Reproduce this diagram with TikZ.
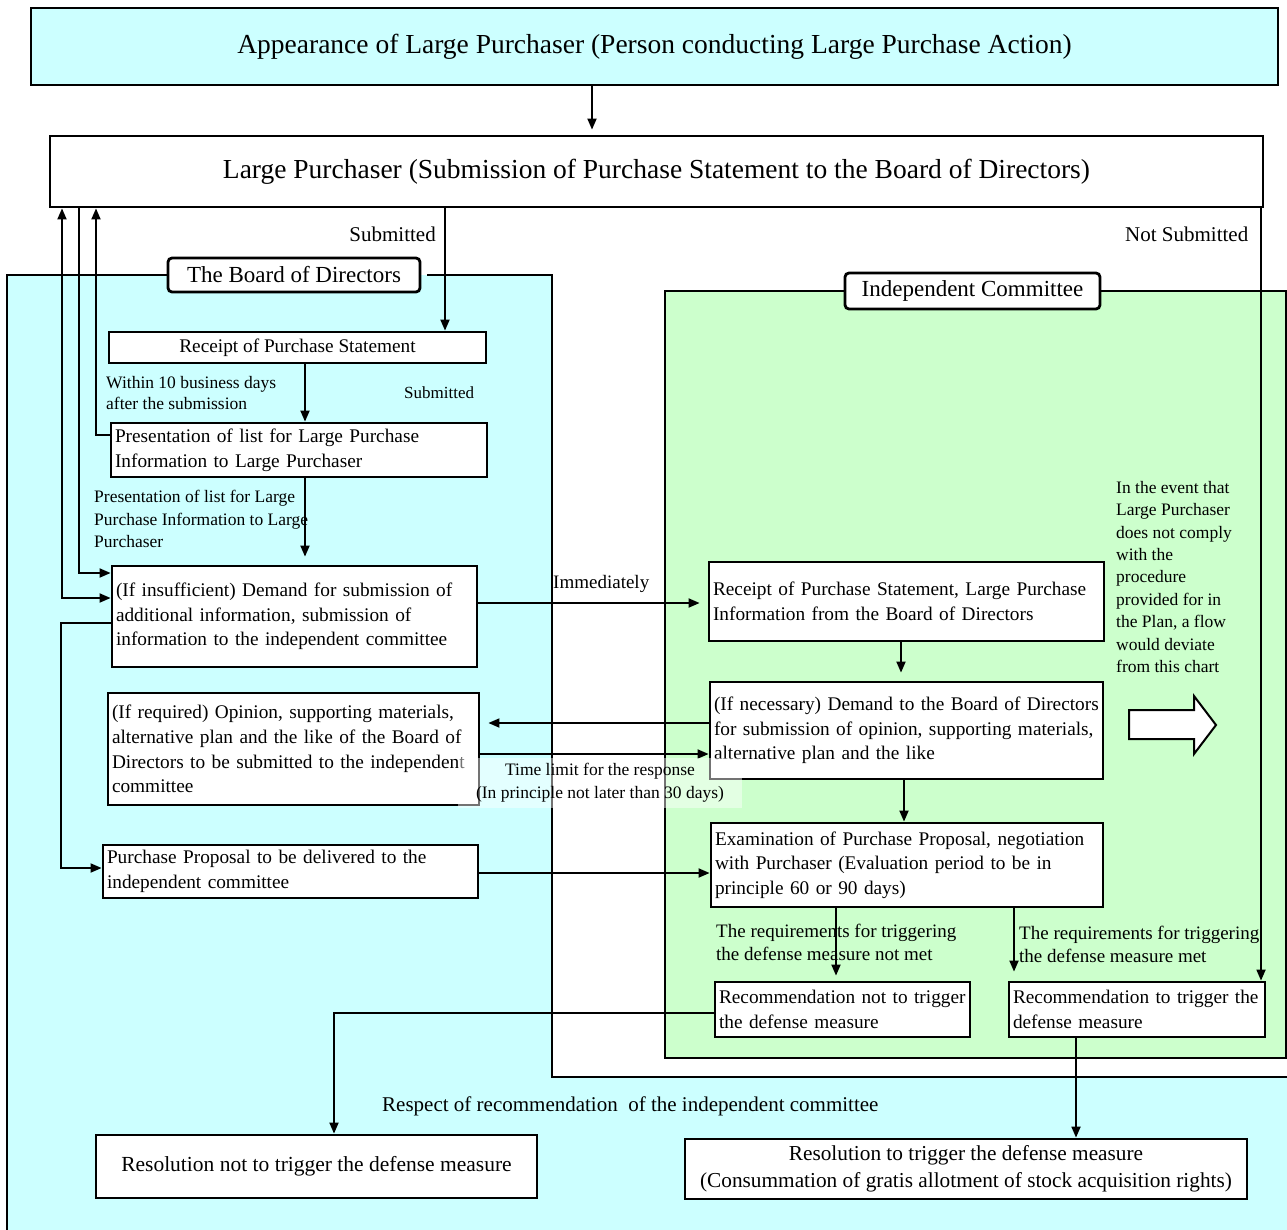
\documentclass[tikz,border=0pt]{standalone}
\usepackage{fontspec}
\setmainfont{Liberation Serif}
\usetikzlibrary{arrows.meta,calc}
\definecolor{cyanbg}{RGB}{204,255,255}
\definecolor{greenbg}{RGB}{204,255,204}
\newcommand\myfs[2]{\fontsize{#1}{#2}\selectfont}
\begin{document}
\begin{tikzpicture}[x=1pt,y=-1pt,
  box/.style={draw, line width=2.8pt, fill=white, inner xsep=4pt, inner ysep=0pt, align=left, font=\myfs{19.3}{24.6}},
  lbl/.style={inner sep=0pt, align=left},
  conn/.style={line width=1.8pt, -{Triangle[length=11pt,width=9pt]}},
  biconn/.style={line width=1.8pt, {Triangle[length=11pt,width=9pt]}-{Triangle[length=11pt,width=9pt]}},
  region/.style={line width=2.5pt}]

\useasboundingbox (0,0) rectangle (1287,1229);

% regions
\fill[cyanbg] (7,275) -- (552,275) -- (552,1077) -- (1295,1077) -- (1295,1240) -- (7,1240) -- cycle;
\draw[region] (7,1240) -- (7,275) -- (168,275);
\draw[region] (427,275) -- (552,275) -- (552,1077) -- (1295,1077);
\draw[region, fill=greenbg] (665,291) rectangle (1286,1058);

% boxes
\node[box, fill=cyanbg, minimum width=1247pt, minimum height=77pt, align=center, font=\myfs{27.5}{33}] (top) at (654.5,46.5) {\raisebox{-2pt}{Appearance of Large Purchaser (Person conducting Large Purchase Action)}};
\node[box, minimum width=1213pt, minimum height=71pt, align=center, font=\myfs{27.5}{33}] (lp) at (656.5,171.5) {\raisebox{-2pt}{Large Purchaser (Submission of Purchase Statement to the Board of Directors)}};
\node[box, rounded corners=4pt, minimum width=252pt, minimum height=34pt, align=center, font=\myfs{23}{28}] (bod) at (294,275) {The Board of Directors};
\node[box, rounded corners=4pt, minimum width=255pt, minimum height=36pt, align=center, font=\myfs{23}{28}] (ic) at (972.5,291) {Independent Committee};

\node[box, minimum width=377pt, minimum height=31pt, align=center] (rec) at (297.5,347.5) {Receipt of Purchase Statement};
\node[box, text width=368pt, minimum height=54pt] (pres) at (299,450) {Presentation of list for Large Purchase\\Information to Large Purchaser};
\node[box, text width=357pt, minimum height=101pt] (dem) at (294.5,616.5) {(If insufficient) Demand for submission of\\additional information, submission of\\information to the independent committee};
\node[box, text width=363pt, minimum height=112pt] (opin) at (293.5,749) {(If required) Opinion, supporting materials,\\alternative plan and the like of the Board of\\Directors to be submitted to the independent\\committee};
\node[box, text width=367pt, minimum height=53pt] (pp) at (290.5,871.5) {Purchase Proposal to be delivered to the\\independent committee};
\node[box, text width=387pt, minimum height=79pt] (ric) at (906.5,601.5) {Receipt of Purchase Statement, Large Purchase\\Information from the Board of Directors};
\node[box, text width=385pt, minimum height=97pt] (nec) at (906.5,730.5) {(If necessary) Demand to the Board of Directors\\for submission of opinion, supporting materials,\\alternative plan and the like};
\node[box, text width=384pt, minimum height=84pt] (exam) at (907,865) {Examination of Purchase Proposal, negotiation\\with Purchaser (Evaluation period to be in\\principle 60 or 90 days)};
\node[box, text width=247pt, minimum height=55pt] (recnot) at (842.5,1009.5) {Recommendation not to trigger\\the defense measure};
\node[box, text width=248pt, minimum height=55pt] (rectrig) at (1137,1009.5) {Recommendation to trigger the\\defense measure};
\node[box, minimum width=441pt, minimum height=63pt, align=center, font=\myfs{21.5}{27}] (resnot) at (316.5,1166.5) {\raisebox{-2pt}{Resolution not to trigger the defense measure}};
\node[box, minimum width=562pt, minimum height=60pt, align=center, font=\myfs{21.3}{27}] (restrig) at (966,1169) {Resolution to trigger the defense measure\\(Consummation of gratis allotment of stock acquisition rights)};

% labels
\node[lbl, anchor=east, font=\myfs{21}{25}] (lsub) at (436,234) {Submitted};
\node[lbl, anchor=west, font=\myfs{21}{25}] (lnsub) at (1125,234) {Not Submitted};
\node[lbl, anchor=north west, font=\myfs{17.5}{21.5}] (lwithin) at (106,376) {Within 10 business days\\after the submission};
\node[lbl, anchor=west, font=\myfs{17}{21}] (lsub2) at (404,393) {Submitted};
\node[lbl, anchor=north west, font=\myfs{17.5}{22.5}] (lpres) at (94,490) {Presentation of list for Large\\Purchase Information to Large\\Purchaser};
\node[lbl, anchor=west, font=\myfs{19}{23}] (limm) at (553,584) {Immediately};
\node[lbl, anchor=north west, font=\myfs{19}{23}] (lreqnot) at (716,924) {The requirements for triggering\\the defense measure not met};
\node[lbl, anchor=north west, font=\myfs{19}{23}] (lreqmet) at (1019,926) {The requirements for triggering\\the defense measure met};
\node[lbl, anchor=north west, font=\myfs{17.5}{22.4}] (levent) at (1116,481) {In the event that\\Large Purchaser\\does not comply\\with the\\procedure\\provided for in\\the Plan, a flow\\would deviate\\from this chart};
\node[lbl, anchor=west, font=\myfs{21}{25}] (lrespect) at (382,1106) {Respect of recommendation\ \ of the independent committee};

% hollow arrow
\draw[line width=2pt, fill=white] (1129,710) -- (1194,710) -- (1194,696) -- (1216,725) -- (1194,754) -- (1194,739) -- (1129,739) -- cycle;

% connectors
\draw[conn, shorten >=5pt] (top.south -| 592,0) -- (lp.north -| 592,0);
\draw[conn] (lp.south -| 445,0) -- (rec.north -| 445,0);
\draw[conn] (lp.south -| 1261,0) -- (rectrig.north -| 1261,0);
\draw[conn] (rec.south -| 305,0) -- (pres.north -| 305,0);
\draw[conn, shorten >=8pt] (pres.south -| 305,0) -- (dem.north -| 305,0);
\draw[conn] (pres.west |- 0,435) -- (96,435) -- (lp.south -| 96,0);
\draw[conn] (lp.south -| 79,0) |- (dem.west |- 0,573);
\draw[biconn] (lp.south -| 62,0) |- (dem.west |- 0,598);
\draw[conn] (dem.west |- 0,623) -- (61,623) |- (pp.west |- 0,868);
\draw[conn, shorten >=8pt] (dem.east |- 0,603) -- (ric.west |- 0,603);
\draw[conn, shorten >=8pt] (ric.south -| 901,0) -- (nec.north -| 901,0);
\draw[conn, shorten >=8pt] (nec.west |- 0,723) -- (opin.east |- 0,723);
\draw[conn] (opin.east |- 0,754) -- (nec.west |- 0,754);
\draw[conn] (nec.south -| 904,0) -- (exam.north -| 904,0);
\draw[conn] (pp.east |- 0,873) -- (exam.west |- 0,873);
\draw[conn, shorten >=5pt] (exam.south -| 836,0) -- (recnot.north -| 836,0);
\draw[conn, shorten >=9pt] (exam.south -| 1014,0) -- (rectrig.north -| 1014,0);
\draw[conn] (recnot.west |- 0,1013) -| (resnot.north -| 334,0);
\draw[conn] (rectrig.south -| 1076,0) -- (restrig.north -| 1076,0);

% time limit label
\node[fill=white, fill opacity=0.45, text opacity=1, align=center, font=\myfs{17.5}{23}, minimum width=284pt, minimum height=50pt, inner sep=0pt] (ltime) at (600,783) {Time limit for the response\\(In principle not later than 30 days)};
\end{tikzpicture}
\end{document}
